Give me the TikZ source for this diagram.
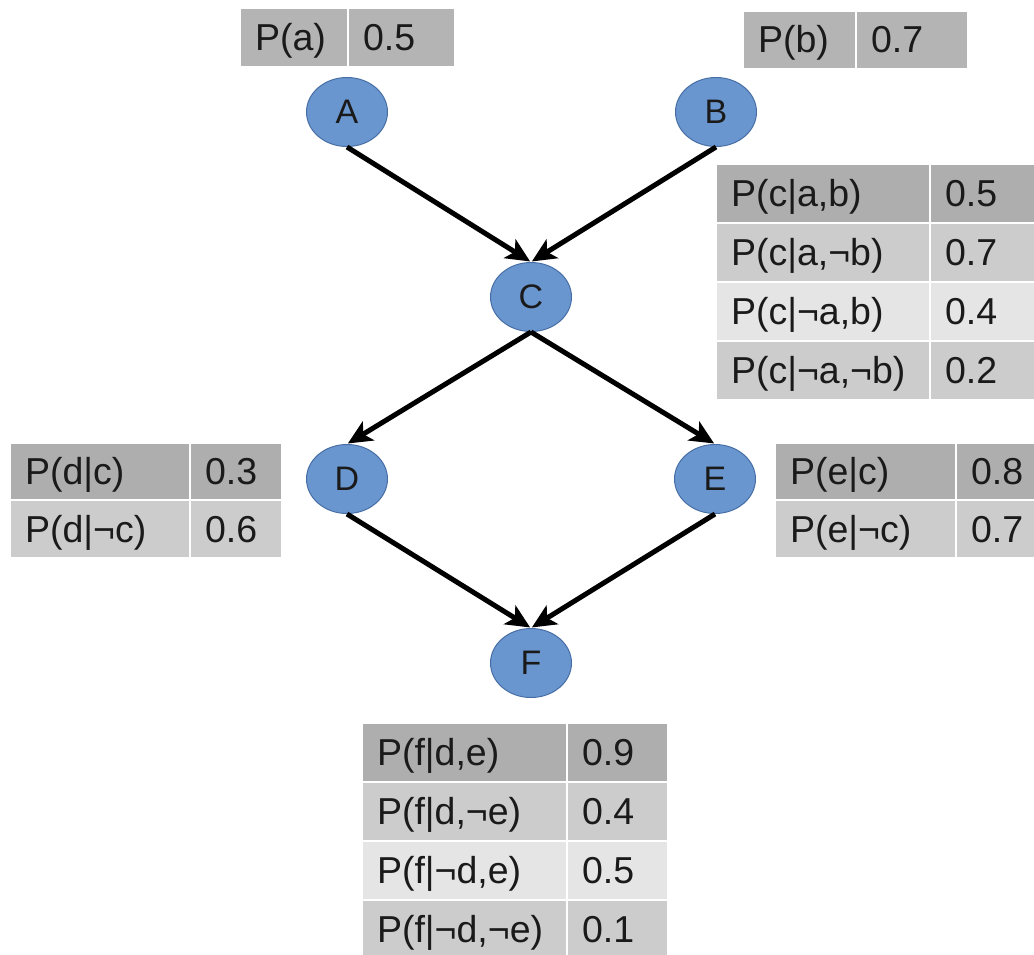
\documentclass[tikz,border=0pt]{standalone}
\usepackage{fontspec}
\setmainfont{Liberation Sans}
\usetikzlibrary{shapes.geometric,arrows.meta}
\definecolor{rowA}{RGB}{174,174,174}
\definecolor{rowB}{RGB}{204,204,204}
\definecolor{rowC}{RGB}{229,229,229}
\definecolor{rowP}{RGB}{180,180,180}
\definecolor{nodefill}{RGB}{106,150,207}
\definecolor{nodeline}{RGB}{70,110,165}
\definecolor{ink}{RGB}{26,26,26}
\tikzset{
  cell/.style={draw=white, line width=2pt, anchor=north west, outer sep=0pt,
    inner xsep=15pt, inner ysep=0pt, align=left, text height=26pt, text depth=0pt,
    text=ink, font=\fontsize{37.5}{40}\selectfont},
  var/.style={ellipse, fill=nodefill, draw=nodeline, line width=1pt, inner sep=0pt,
    minimum width=81pt, minimum height=69pt, text=ink, font=\fontsize{34}{36}\selectfont},
  arr/.style={line width=5pt, -{Stealth[length=24pt,width=22pt,inset=6pt]}, shorten >=1pt}
}
\newcommand\pcell[7]{%
  \pgfmathsetmacro\cellw{#4-30}%
  \node[cell, fill=#6, text width=\cellw pt, minimum height=#5pt] (#1) at (#2,#3) {#7};}
\begin{document}
\begin{tikzpicture}[x=1pt,y=-1pt]
\useasboundingbox (0,0) rectangle (1034,955);
% nodes
\node[var] (A) at (347,112) {A};
\node[var] (B) at (716,112) {B};
\node[var] (C) at (531,297) {C};
\node[var] (D) at (347,479) {D};
\node[var] (E) at (715,479) {E};
\node[var] (F) at (531,663) {F};
% edges
\draw[arr] (A.south) -- (C.north);
\draw[arr] (B.south) -- (C.north);
\draw[arr] (C.south) -- (D.north);
\draw[arr] (C.south) -- (E.north);
\draw[arr] (D.south) -- (F.north);
\draw[arr] (E.south) -- (F.north);
% P(a)
\pcell{pa1}{240}{8}{108}{59}{rowP}{P(a)}
\pcell{pa2}{348}{8}{107}{59}{rowP}{0.5}
% P(b)
\pcell{pb1}{743}{11}{113}{58}{rowP}{P(b)}
\pcell{pb2}{856}{11}{112}{58}{rowP}{0.7}
% P(c|..)
\pcell{pc11}{716}{164}{214}{59}{rowA}{P(c|a,b)}
\pcell{pc12}{930}{164}{106}{59}{rowA}{0.5}
\pcell{pc21}{716}{223}{214}{59}{rowB}{P(c|a,¬b)}
\pcell{pc22}{930}{223}{106}{59}{rowB}{0.7}
\pcell{pc31}{716}{282}{214}{59}{rowC}{P(c|¬a,b)}
\pcell{pc32}{930}{282}{106}{59}{rowC}{0.4}
\pcell{pc41}{716}{341}{214}{59}{rowB}{P(c|¬a,¬b)}
\pcell{pc42}{930}{341}{106}{59}{rowB}{0.2}
% P(d|..)
\pcell{pd11}{10}{443}{180}{57}{rowA}{P(d|c)}
\pcell{pd12}{190}{443}{92}{57}{rowA}{0.3}
\pcell{pd21}{10}{500}{180}{58}{rowB}{P(d|¬c)}
\pcell{pd22}{190}{500}{92}{58}{rowB}{0.6}
% P(e|..)
\pcell{pe11}{775}{443}{181}{57}{rowA}{P(e|c)}
\pcell{pe12}{956}{443}{80}{57}{rowA}{0.8}
\pcell{pe21}{775}{500}{181}{58}{rowB}{P(e|¬c)}
\pcell{pe22}{956}{500}{80}{58}{rowB}{0.7}
% P(f|..)
\pcell{pf11}{362}{723}{205}{59}{rowA}{P(f|d,e)}
\pcell{pf12}{567}{723}{101}{59}{rowA}{0.9}
\pcell{pf21}{362}{782}{205}{59}{rowB}{P(f|d,¬e)}
\pcell{pf22}{567}{782}{101}{59}{rowB}{0.4}
\pcell{pf31}{362}{841}{205}{59}{rowC}{P(f|¬d,e)}
\pcell{pf32}{567}{841}{101}{59}{rowC}{0.5}
\pcell{pf41}{362}{900}{205}{59}{rowB}{P(f|¬d,¬e)}
\pcell{pf42}{567}{900}{101}{59}{rowB}{0.1}
\end{tikzpicture}
\end{document}
